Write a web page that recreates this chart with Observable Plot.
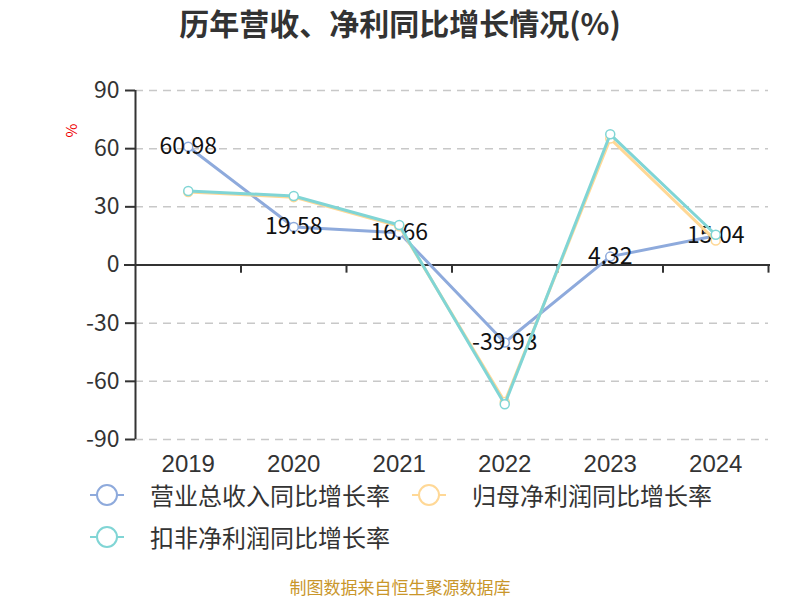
<!DOCTYPE html>
<html>
<head>
<meta charset="utf-8">
<script src="https://cdn.jsdelivr.net/npm/d3@7"></script>
<script src="https://cdn.jsdelivr.net/npm/@observablehq/plot@0.6"></script>
<style>
  html, body { margin: 0; padding: 0; background: #fff; }
  body { font-family: "Noto Sans CJK SC", "Noto Sans", sans-serif; }
  #page { position: relative; width: 800px; height: 600px; overflow: hidden; }
  #title { position: absolute; left: 0; top: 2px; width: 800px; text-align: center; font-size: 30px; font-weight: bold; color: #333; line-height: 40px; }
  #chart { position: absolute; left: 0; top: 60px; }
  #unit { position: absolute; left: 64px; top: 120px; color: #e00; font-size: 15px; transform: rotate(-90deg); transform-origin: center; }
  .leg { position: absolute; display: flex; align-items: center; font-size: 24px; color: #333; white-space: nowrap; line-height: 24px; height: 24px; }
  .leg span { display: inline-block; line-height: 24px; height: 24px; }
  .leg svg { margin-right: 10px; }
  #caption { position: absolute; left: 0; top: 577px; width: 800px; text-align: center; font-size: 17px; color: #c9962a; line-height: 20px; }
  .xlab text { font-family: "Liberation Sans", Arial, sans-serif; }
</style>
</head>
<body>
<div id="page">
  <div id="title">历年营收、净利同比增长情况(%)</div>
  <div id="unit">%</div>
  <div id="chart"></div>
  <div id="legend"></div>
  <div id="caption">制图数据来自恒生聚源数据库</div>
</div>
<script>
const years = [2019, 2020, 2021, 2022, 2023, 2024];
const revenueGrowth = [60.98, 19.58, 16.66, -39.93, 4.32, 15.04];
const parentProfitGrowth = [37.6, 35.0, 20.0, -70.6, 65.2, 12.6];
const deductedProfitGrowth = [38.2, 35.6, 20.6, -71.8, 67.4, 15.6];
const seriesNames = ["营业总收入同比增长率", "归母净利润同比增长率", "扣非净利润同比增长率"];
const seriesColors = ["#8eaadc", "#ffd896", "#80d5d5"];
const yTicks = [-90, -60, -30, 0, 30, 60, 90];
const bandEdges = [2018.5, 2019.5, 2020.5, 2021.5, 2022.5, 2023.5, 2024.5];

const rows = (vals) => years.map((y, i) => ({year: y, value: vals[i]}));
const rev = rows(revenueGrowth);
const par = rows(parentProfitGrowth);
const ded = rows(deductedProfitGrowth);

const axisColor = "#333";
const chart = Plot.plot({
  width: 800,
  height: 420,
  marginLeft: 135,
  marginRight: 32,
  marginTop: 30,
  marginBottom: 41,
  style: {fontFamily: "'Noto Sans CJK SC', 'Noto Sans', sans-serif", fontSize: "23px", color: "#333", background: "transparent"},
  x: {domain: [bandEdges[0], bandEdges[bandEdges.length - 1]], axis: null},
  y: {domain: [-90, 90], axis: null},
  marks: [
    Plot.ruleY(yTicks.filter(d => d !== 0), {stroke: "#c8c8c8", strokeWidth: 1.5, strokeDasharray: "8,6"}),
    Plot.axisY({ticks: yTicks, tickSize: 10, tickPadding: 6, fontSize: 23, stroke: axisColor, strokeWidth: 2, tickFormat: d => String(d), fill: "#333", label: null}),
    Plot.ruleX([bandEdges[0]], {y1: -90, y2: 90, stroke: axisColor, strokeWidth: 2}),
    Plot.ruleY([0], {stroke: axisColor, strokeWidth: 2, insetLeft: -11, insetRight: -2}),
    Plot.ruleX(bandEdges.slice(1), {y1: 0, y2: -4.2, stroke: axisColor, strokeWidth: 2}),
    Plot.axisX({ticks: years, tickSize: 0, tickPadding: 15, fontSize: 24, tickFormat: d => String(d), fill: "#333", label: null, className: "xlab"}),
    Plot.line(rev, {x: "year", y: "value", stroke: seriesColors[0], strokeWidth: 3}),
    Plot.dot(rev, {x: "year", y: "value", r: 4.5, fill: "#fff", stroke: seriesColors[0], strokeWidth: 1.5}),
    Plot.text(rev, {x: "year", y: "value", text: d => d.value.toFixed(2), fontSize: 23, fill: "#111"}),
    Plot.line(par, {x: "year", y: "value", stroke: seriesColors[1], strokeWidth: 3}),
    Plot.dot(par, {x: "year", y: "value", r: 4.5, fill: "#fff", stroke: seriesColors[1], strokeWidth: 1.5}),
    Plot.line(ded, {x: "year", y: "value", stroke: seriesColors[2], strokeWidth: 3}),
    Plot.dot(ded, {x: "year", y: "value", r: 4.5, fill: "#fff", stroke: seriesColors[2], strokeWidth: 1.5})
  ]
});
document.getElementById("chart").appendChild(chart);

// Legend
const legendPos = [{left: 88, top: 483}, {left: 410, top: 483}, {left: 88, top: 525}];
const legend = document.getElementById("legend");
seriesNames.forEach((name, i) => {
  const div = document.createElement("div");
  div.className = "leg";
  div.style.left = legendPos[i].left + "px";
  div.style.top = legendPos[i].top + "px";
  const c = seriesColors[i];
  div.innerHTML = `<svg width="52" height="24"><line x1="2" y1="12" x2="36" y2="12" stroke="${c}" stroke-width="2"/><circle cx="19" cy="12" r="10" fill="#fff" stroke="${c}" stroke-width="2"/></svg><span>${name}</span>`;
  legend.appendChild(div);
});
</script>
</body>
</html>
